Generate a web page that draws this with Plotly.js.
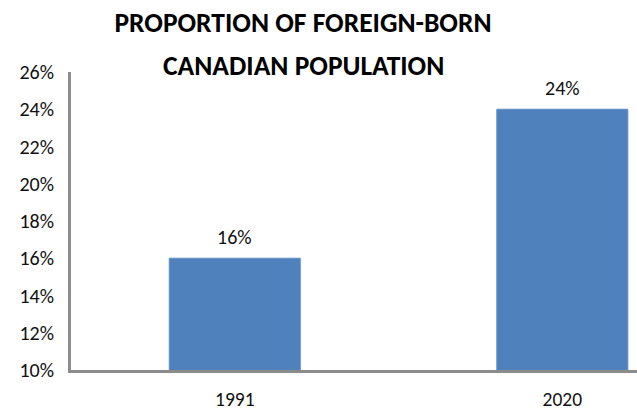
<!DOCTYPE html>
<html>
<head>
<meta charset="utf-8">
<script src="https://cdn.plot.ly/plotly-3.0.1.min.js"></script>
<style>html,body{margin:0;padding:0;background:#fff;}#chart{width:637px;height:413px;}</style>
</head>
<body>
<div id="chart"></div>
<script>
const categories = ['1991', '2020'];
const values = [16, 24];
const valueLabels = ['16%', '24%'];
const titleLine1 = 'PROPORTION OF FOREIGN-BORN';
const titleLine2 = 'CANADIAN POPULATION';

const font = 'Carlito, Calibri, "Liberation Sans Narrow", "Open Sans", sans-serif';

const trace = {
  type: 'bar',
  x: categories,
  y: values,
  width: 0.4,
  marker: {color: '#4F81BD', line: {color: '#5F8FC8', width: 1}},
  hoverinfo: 'none'
};

const annotations = categories.map((c, i) => ({
  x: i, y: values[i], xref: 'x', yref: 'y',
  text: valueLabels[i], showarrow: false,
  yanchor: 'bottom', yshift: 7,
  font: {family: font, size: 20, color: '#111'}
}));
annotations.push({
  x: (303 - 71) / 566, xref: 'paper', xanchor: 'center',
  y: 1, yref: 'paper', yanchor: 'bottom', yshift: -12,
  text: titleLine2, showarrow: false,
  font: {family: font, size: 27.5, color: '#000', weight: 'bold'}
});

const layout = {
  width: 637, height: 413,
  margin: {l: 71, r: 0, t: 72, b: 43, pad: 0},
  paper_bgcolor: '#fff', plot_bgcolor: '#fff',
  showlegend: false,
  font: {family: font, size: 20, color: '#111'},
  title: {
    text: titleLine1,
    font: {family: font, size: 27.5, color: '#000', weight: 'bold'},
    x: 303 / 637, xanchor: 'center', xref: 'container',
    y: 1 - 13 / 413, yanchor: 'top', yref: 'container'
  },
  xaxis: {
    type: 'category',
    range: [-0.5, 1.228],
    showline: true, linecolor: '#8c8c8c', linewidth: 3,
    showgrid: false, zeroline: false,
    ticks: '', ticklabelstandoff: 10,
    tickfont: {family: font, size: 19.5, color: '#111'}
  },
  yaxis: {
    range: [10, 26], dtick: 2, tick0: 10,
    ticksuffix: '%',
    showline: true, linecolor: '#8c8c8c', linewidth: 3,
    showgrid: false, zeroline: false,
    ticks: '', ticklabelstandoff: 10,
    tickfont: {family: font, size: 20, color: '#111'}
  },
  annotations: annotations
};

Plotly.newPlot('chart', [trace], layout, {displayModeBar: false, staticPlot: true});
</script>
</body>
</html>
